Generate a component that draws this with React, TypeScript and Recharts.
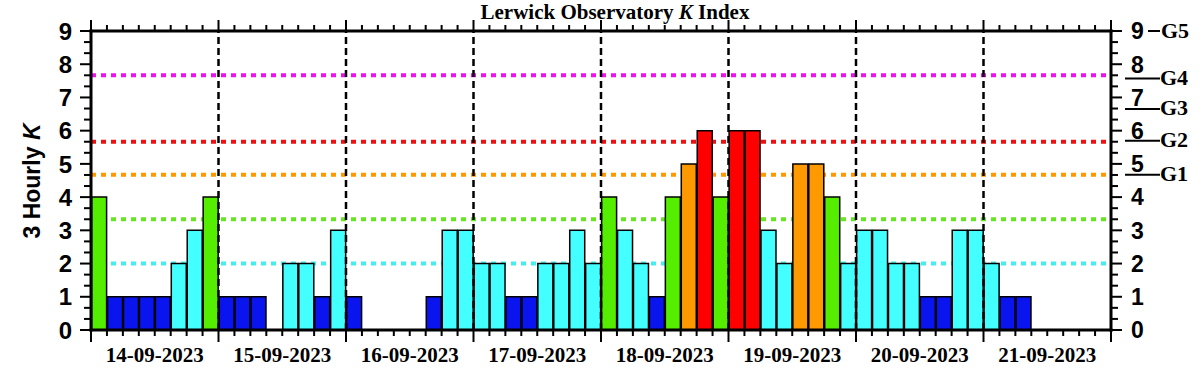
import React from 'react';
import { BarChart, Bar, Cell, XAxis, YAxis, ReferenceLine } from 'recharts';

const days = ['14-09-2023', '15-09-2023', '16-09-2023', '17-09-2023', '18-09-2023', '19-09-2023', '20-09-2023', '21-09-2023'];

// 3-hourly K values, 8 per day
const kValues: (number | null)[] = [
  4, 1, 1, 1, 1, 2, 3, 4,
  1, 1, 1, 0, 2, 2, 1, 3,
  1, 0, 0, 0, 0, 1, 3, 3,
  2, 2, 1, 1, 2, 2, 3, 2,
  4, 3, 2, 1, 4, 5, 6, 4,
  6, 6, 3, 2, 5, 5, 4, 2,
  3, 3, 2, 2, 1, 1, 3, 3,
  2, 1, 1, null, null, null, null, null,
];

const thresholdValues = [2, 3.33, 4.67, 5.67, 7.67];
const thresholdColors = ['#44eeee', '#66e622', '#ff9900', '#ee1111', '#ee11ee'];

const gLevels = [
  { k: 4.67, g: 'G1' },
  { k: 5.7, g: 'G2' },
  { k: 6.65, g: 'G3' },
  { k: 7.57, g: 'G4' },
  { k: 9, g: 'G5' },
];

const SLOTS = days.length * 8;
const xTicks = Array.from({ length: SLOTS + 1 }, (_, i) => i);
const yTicks = Array.from({ length: 28 }, (_, i) => i / 3);
const rightTicks = [...yTicks, ...gLevels.filter((g) => g.k !== 9).map((g) => g.k)];

const chartData = kValues.map((k, i) => ({ slot: i, k }));

function barColor(k: number) {
  if (k <= 1) return '#0a14ee';
  if (k <= 3) return '#44ffff';
  if (k === 4) return '#55ee00';
  if (k === 5) return '#ff9900';
  return '#ff0000';
}

const SANS = '"Liberation Sans", Arial, sans-serif';
const SERIF = '"Liberation Serif", "Times New Roman", serif';

const isInt = (v: number) => Math.abs(v - Math.round(v)) < 1e-6;

const LeftTick = (props: any) => {
  const { x, y, payload } = props;
  const v = payload.value;
  const major = isInt(v);
  return (
    <g>
      <line x1={x - (major ? 11 : 7)} x2={x} y1={y} y2={y} stroke="#000" strokeWidth={2} />
      {major && (
        <text x={x - 19} y={y} dy="0.36em" textAnchor="end" fontFamily={SANS} fontWeight="bold" fontSize={24} fill="#000">
          {Math.round(v)}
        </text>
      )}
    </g>
  );
};

const RightTick = (props: any) => {
  const { x, y, payload } = props;
  const v = payload.value;
  const g = gLevels.find((l) => l.k !== 9 && Math.abs(l.k - v) < 1e-9);
  if (g) {
    return (
      <g>
        <line x1={x + 14} x2={x + 49} y1={y} y2={y} stroke="#000" strokeWidth={2} />
        <text x={x + 49} y={y + 6} fontFamily={SERIF} fontWeight="bold" fontSize={22} fill="#000">
          {g.g}
        </text>
      </g>
    );
  }
  const major = isInt(v);
  const top = gLevels.find((l) => l.k === 9 && Math.abs(l.k - v) < 1e-9);
  return (
    <g>
      <line x1={x} x2={x + (major ? 11 : 7)} y1={y} y2={y} stroke="#000" strokeWidth={2} />
      {major && (
        <text x={x + 20} y={y} dy="0.36em" fontFamily={SANS} fontWeight="bold" fontSize={23} fill="#000">
          {Math.round(v)}
        </text>
      )}
      {top && (
        <g>
          <line x1={x + 37} x2={x + 49} y1={y} y2={y} stroke="#000" strokeWidth={2} />
          <text x={x + 50} y={y + 7} fontFamily={SERIF} fontWeight="bold" fontSize={22} fill="#000">
            {top.g}
          </text>
        </g>
      )}
    </g>
  );
};

const BottomTick = (props: any) => {
  const { x, y, payload } = props;
  const v = payload.value;
  const major = v % 8 === 0;
  const label = v % 8 === 4 ? days[(v - 4) / 8] : null;
  return (
    <g>
      <line x1={x} x2={x} y1={y} y2={y + (major ? 12 : 6)} stroke="#000" strokeWidth={2} />
      {label && (
        <text x={x} y={y + 32} textAnchor="middle" fontFamily={SERIF} fontWeight="bold" fontSize={21} fill="#000">
          {label}
        </text>
      )}
    </g>
  );
};

const TopTick = (props: any) => {
  const { x, y, payload } = props;
  const major = payload.value % 8 === 0;
  return <line x1={x} x2={x} y1={y} y2={y - (major ? 11 : 6)} stroke="#000" strokeWidth={2} />;
};

const axisLine = { stroke: '#000', strokeWidth: 3, strokeLinecap: 'square' as const };

export default function App() {
  return (
    <div style={{ position: 'absolute', left: 0, top: 0, width: 1201, height: 372, background: '#fff' }}>
      <BarChart
        width={1201}
        height={372}
        data={chartData}
        margin={{ top: 0, right: 0, bottom: 0, left: 0 }}
        barCategoryGap={0.6}
      >
        <XAxis xAxisId="cat" dataKey="slot" type="category" hide height={0} />
        <XAxis
          xAxisId="num"
          dataKey="slot"
          type="number"
          domain={[0, SLOTS]}
          allowDataOverflow
          ticks={xTicks}
          interval={0}
          height={42}
          tickSize={0}
          tickMargin={0}
          tickLine={false}
          axisLine={axisLine}
          tick={<BottomTick />}
        />
        <XAxis
          xAxisId="top"
          orientation="top"
          dataKey="slot"
          type="number"
          domain={[0, SLOTS]}
          allowDataOverflow
          ticks={xTicks}
          interval={0}
          height={31}
          tickSize={0}
          tickMargin={0}
          tickLine={false}
          axisLine={axisLine}
          tick={<TopTick />}
        />
        <YAxis
          yAxisId="left"
          domain={[0, 9]}
          allowDataOverflow
          ticks={yTicks}
          interval={0}
          width={91}
          tickSize={0}
          tickMargin={0}
          tickLine={false}
          axisLine={axisLine}
          tick={<LeftTick />}
        />
        <YAxis
          yAxisId="right"
          orientation="right"
          type="number"
          domain={[0, 9]}
          allowDataOverflow
          ticks={rightTicks}
          interval={0}
          width={90}
          tickSize={0}
          tickMargin={0}
          tickLine={false}
          axisLine={axisLine}
          tick={<RightTick />}
        />
        {thresholdValues.map((t, i) => (
          <ReferenceLine
            key={`t-${i}`}
            xAxisId="cat"
            yAxisId="left"
            y={t}
            stroke={thresholdColors[i]}
            strokeWidth={4}
            strokeDasharray="5 5"
            zIndex={100}
          />
        ))}
        <Bar xAxisId="cat" yAxisId="left" dataKey="k" stroke="#000" strokeWidth={1.5} isAnimationActive={false} zIndex={300}>
          {chartData.map((d, i) => (
            <Cell key={`c-${i}`} fill={d.k == null ? 'none' : barColor(d.k)} />
          ))}
        </Bar>
        {days.slice(1).map((_, i) => (
          <ReferenceLine
            key={`d-${i}`}
            xAxisId="num"
            yAxisId="left"
            x={(i + 1) * 8}
            stroke="#000"
            strokeWidth={2.5}
            strokeDasharray="7 4"
            zIndex={450}
          />
        ))}
      </BarChart>
      <svg width={1201} height={372} style={{ position: 'absolute', left: 0, top: 0, pointerEvents: 'none' }}>
        <text x={615} y={19} textAnchor="middle" fontFamily={SERIF} fontWeight="bold" fontSize={21} fill="#000">
          Lerwick Observatory <tspan fontStyle="italic">K</tspan> Index
        </text>
        <text
          transform="translate(40,181) rotate(-90)"
          textAnchor="middle"
          fontFamily={SANS}
          fontWeight="bold"
          fontSize={23}
          fill="#000"
        >
          3 Hourly <tspan fontStyle="italic">K</tspan>
        </text>
      </svg>
    </div>
  );
}
